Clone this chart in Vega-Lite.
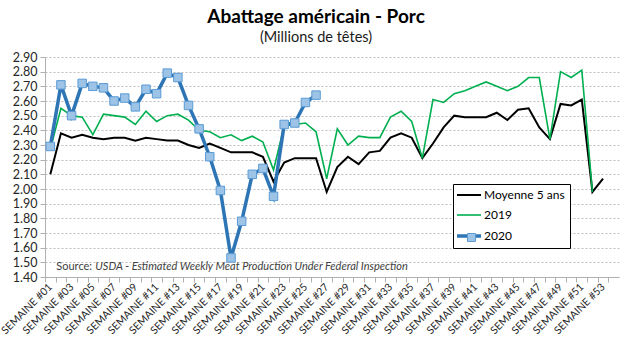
{
  "$schema": "https://vega.github.io/schema/vega-lite/v6.json",
  "width": 574,
  "height": 220,
  "autosize": {"type": "none"},
  "padding": {"left": 45, "top": 57, "right": 13, "bottom": 67},
  "background": "white",
  "config": {"font": "Lato", "view": {"stroke": null}},
  "title": {
    "text": "Abattage américain - Porc",
    "subtitle": "(Millions de têtes)",
    "font": "Lato",
    "fontSize": 19,
    "fontWeight": "bold",
    "color": "#000000",
    "subtitleFont": "Lato",
    "subtitleFontSize": 14.5,
    "subtitleColor": "#1a1a1a",
    "anchor": "middle",
    "dx": -16,
    "offset": 7,
    "subtitlePadding": 4
  },
  "datasets": {
    "semaines": [
      {"semaine": "SEMAINE #01", "Moyenne 5 ans": 2.10, "2019": 2.27, "2020": 2.29},
      {"semaine": "SEMAINE #02", "Moyenne 5 ans": 2.38, "2019": 2.55, "2020": 2.71},
      {"semaine": "SEMAINE #03", "Moyenne 5 ans": 2.35, "2019": 2.50, "2020": 2.50},
      {"semaine": "SEMAINE #04", "Moyenne 5 ans": 2.37, "2019": 2.49, "2020": 2.72},
      {"semaine": "SEMAINE #05", "Moyenne 5 ans": 2.35, "2019": 2.37, "2020": 2.70},
      {"semaine": "SEMAINE #06", "Moyenne 5 ans": 2.34, "2019": 2.51, "2020": 2.69},
      {"semaine": "SEMAINE #07", "Moyenne 5 ans": 2.35, "2019": 2.50, "2020": 2.60},
      {"semaine": "SEMAINE #08", "Moyenne 5 ans": 2.35, "2019": 2.49, "2020": 2.62},
      {"semaine": "SEMAINE #09", "Moyenne 5 ans": 2.33, "2019": 2.44, "2020": 2.56},
      {"semaine": "SEMAINE #10", "Moyenne 5 ans": 2.35, "2019": 2.53, "2020": 2.68},
      {"semaine": "SEMAINE #11", "Moyenne 5 ans": 2.34, "2019": 2.46, "2020": 2.65},
      {"semaine": "SEMAINE #12", "Moyenne 5 ans": 2.33, "2019": 2.50, "2020": 2.79},
      {"semaine": "SEMAINE #13", "Moyenne 5 ans": 2.33, "2019": 2.51, "2020": 2.76},
      {"semaine": "SEMAINE #14", "Moyenne 5 ans": 2.30, "2019": 2.47, "2020": 2.57},
      {"semaine": "SEMAINE #15", "Moyenne 5 ans": 2.28, "2019": 2.40, "2020": 2.41},
      {"semaine": "SEMAINE #16", "Moyenne 5 ans": 2.31, "2019": 2.39, "2020": 2.22},
      {"semaine": "SEMAINE #17", "Moyenne 5 ans": 2.28, "2019": 2.35, "2020": 1.99},
      {"semaine": "SEMAINE #18", "Moyenne 5 ans": 2.25, "2019": 2.37, "2020": 1.53},
      {"semaine": "SEMAINE #19", "Moyenne 5 ans": 2.25, "2019": 2.33, "2020": 1.78},
      {"semaine": "SEMAINE #20", "Moyenne 5 ans": 2.25, "2019": 2.36, "2020": 2.10},
      {"semaine": "SEMAINE #21", "Moyenne 5 ans": 2.22, "2019": 2.32, "2020": 2.14},
      {"semaine": "SEMAINE #22", "Moyenne 5 ans": 2.05, "2019": 2.13, "2020": 1.95},
      {"semaine": "SEMAINE #23", "Moyenne 5 ans": 2.18, "2019": 2.43, "2020": 2.44},
      {"semaine": "SEMAINE #24", "Moyenne 5 ans": 2.21, "2019": 2.44, "2020": 2.45},
      {"semaine": "SEMAINE #25", "Moyenne 5 ans": 2.21, "2019": 2.45, "2020": 2.59},
      {"semaine": "SEMAINE #26", "Moyenne 5 ans": 2.21, "2019": 2.39, "2020": 2.64},
      {"semaine": "SEMAINE #27", "Moyenne 5 ans": 1.98, "2019": 2.07, "2020": null},
      {"semaine": "SEMAINE #28", "Moyenne 5 ans": 2.15, "2019": 2.41, "2020": null},
      {"semaine": "SEMAINE #29", "Moyenne 5 ans": 2.22, "2019": 2.30, "2020": null},
      {"semaine": "SEMAINE #30", "Moyenne 5 ans": 2.17, "2019": 2.36, "2020": null},
      {"semaine": "SEMAINE #31", "Moyenne 5 ans": 2.25, "2019": 2.35, "2020": null},
      {"semaine": "SEMAINE #32", "Moyenne 5 ans": 2.26, "2019": 2.35, "2020": null},
      {"semaine": "SEMAINE #33", "Moyenne 5 ans": 2.35, "2019": 2.49, "2020": null},
      {"semaine": "SEMAINE #34", "Moyenne 5 ans": 2.38, "2019": 2.53, "2020": null},
      {"semaine": "SEMAINE #35", "Moyenne 5 ans": 2.35, "2019": 2.46, "2020": null},
      {"semaine": "SEMAINE #36", "Moyenne 5 ans": 2.21, "2019": 2.21, "2020": null},
      {"semaine": "SEMAINE #37", "Moyenne 5 ans": 2.31, "2019": 2.61, "2020": null},
      {"semaine": "SEMAINE #38", "Moyenne 5 ans": 2.42, "2019": 2.59, "2020": null},
      {"semaine": "SEMAINE #39", "Moyenne 5 ans": 2.50, "2019": 2.65, "2020": null},
      {"semaine": "SEMAINE #40", "Moyenne 5 ans": 2.49, "2019": 2.67, "2020": null},
      {"semaine": "SEMAINE #41", "Moyenne 5 ans": 2.49, "2019": 2.70, "2020": null},
      {"semaine": "SEMAINE #42", "Moyenne 5 ans": 2.49, "2019": 2.73, "2020": null},
      {"semaine": "SEMAINE #43", "Moyenne 5 ans": 2.52, "2019": 2.70, "2020": null},
      {"semaine": "SEMAINE #44", "Moyenne 5 ans": 2.47, "2019": 2.67, "2020": null},
      {"semaine": "SEMAINE #45", "Moyenne 5 ans": 2.54, "2019": 2.70, "2020": null},
      {"semaine": "SEMAINE #46", "Moyenne 5 ans": 2.55, "2019": 2.76, "2020": null},
      {"semaine": "SEMAINE #47", "Moyenne 5 ans": 2.42, "2019": 2.76, "2020": null},
      {"semaine": "SEMAINE #48", "Moyenne 5 ans": 2.34, "2019": 2.34, "2020": null},
      {"semaine": "SEMAINE #49", "Moyenne 5 ans": 2.58, "2019": 2.80, "2020": null},
      {"semaine": "SEMAINE #50", "Moyenne 5 ans": 2.57, "2019": 2.76, "2020": null},
      {"semaine": "SEMAINE #51", "Moyenne 5 ans": 2.61, "2019": 2.81, "2020": null},
      {"semaine": "SEMAINE #52", "Moyenne 5 ans": 1.98, "2019": 1.98, "2020": null},
      {"semaine": "SEMAINE #53", "Moyenne 5 ans": 2.07, "2019": null, "2020": null}
    ],
    "source": [
      {"semaine": "SEMAINE #01", "y": 1.47, "a": "Source:", "b": "USDA - Estimated Weekly Meat Production Under Federal Inspection"}
    ]
  },
  "layer": [
    {
      "data": {"name": "semaines"},
      "transform": [
        {"fold": ["Moyenne 5 ans", "2019", "2020"], "as": ["serie", "valeur"]},
        {"filter": "isValid(datum.valeur) && datum.serie !== '2020'"}
      ],
      "mark": {"type": "line"},
      "encoding": {
        "x": {
          "field": "semaine",
          "type": "ordinal",
          "scale": {
            "type": "point",
            "padding": 0.5,
            "domain": ["SEMAINE #01","SEMAINE #02","SEMAINE #03","SEMAINE #04","SEMAINE #05","SEMAINE #06","SEMAINE #07","SEMAINE #08","SEMAINE #09","SEMAINE #10","SEMAINE #11","SEMAINE #12","SEMAINE #13","SEMAINE #14","SEMAINE #15","SEMAINE #16","SEMAINE #17","SEMAINE #18","SEMAINE #19","SEMAINE #20","SEMAINE #21","SEMAINE #22","SEMAINE #23","SEMAINE #24","SEMAINE #25","SEMAINE #26","SEMAINE #27","SEMAINE #28","SEMAINE #29","SEMAINE #30","SEMAINE #31","SEMAINE #32","SEMAINE #33","SEMAINE #34","SEMAINE #35","SEMAINE #36","SEMAINE #37","SEMAINE #38","SEMAINE #39","SEMAINE #40","SEMAINE #41","SEMAINE #42","SEMAINE #43","SEMAINE #44","SEMAINE #45","SEMAINE #46","SEMAINE #47","SEMAINE #48","SEMAINE #49","SEMAINE #50","SEMAINE #51","SEMAINE #52","SEMAINE #53","SEMAINE #54"]
          },
          "axis": {
            "title": null,
            "labelAngle": -45,
            "labelAlign": "right",
            "labelBaseline": "middle",
            "labelFontSize": 10.5,
            "labelColor": "#262626",
            "labelFont": "Lato",
            "tickOffset": -5.315,
            "labelOffset": 5.315,
            "tickSize": 5,
            "tickColor": "#B0B0B0",
            "domainColor": "#B0B0B0",
            "labelExpr": "toNumber(slice(datum.value, 9)) % 2 == 1 ? datum.value : ''",
            "labelOverlap": false,
            "labelPadding": 3,
            "grid": false
          }
        },
        "y": {
          "field": "valeur",
          "type": "quantitative",
          "scale": {"domain": [1.4, 2.9], "nice": false, "zero": false},
          "axis": {
            "title": null,
            "values": [1.4, 1.5, 1.6, 1.7, 1.8, 1.9, 2.0, 2.1, 2.2, 2.3, 2.4, 2.5, 2.6, 2.7, 2.8, 2.9],
            "tickCount": 16,
            "labelOverlap": false,
            "format": ".2f",
            "grid": true,
            "gridDash": [2, 2],
            "gridColor": "#BFBFBF",
            "domainColor": "#B0B0B0",
            "tickColor": "#B0B0B0",
            "tickSize": 5,
            "labelFontSize": 12.5,
            "labelFont": "Lato",
            "labelColor": "#262626",
            "labelPadding": 3
          }
        },
        "color": {
          "field": "serie",
          "type": "nominal",
          "scale": {"domain": ["Moyenne 5 ans", "2019", "2020"], "range": ["#000000", "#00B050", "#2E75B6"]},
          "legend": {
            "orient": "none",
            "legendX": 408,
            "legendY": 127,
            "title": null,
            "symbolType": "M-1.5,0L1.5,0",
            "symbolSize": 256,
            "symbolStrokeWidth": 2,
            "rowPadding": 8,
            "padding": 5,
            "strokeColor": "#000000",
            "fillColor": "#ffffff",
            "labelFontSize": 12,
            "labelFont": "Lato",
            "labelColor": "#000000",
            "symbolOffset": 5,
            "labelOffset": 9,
            "encode": {"symbols": {"update": {"strokeWidth": {"signal": "datum.value === '2020' ? 3.5 : datum.value === '2019' ? 1.6 : 2"}}}}
          }
        },
        "strokeWidth": {"condition": {"test": "datum.serie === 'Moyenne 5 ans'", "value": 2}, "value": 1.6}
      }
    },
    {
      "data": {"name": "semaines"},
      "transform": [
        {"fold": ["Moyenne 5 ans", "2019", "2020"], "as": ["serie", "valeur"]},
        {"filter": "isValid(datum.valeur) && datum.serie === '2020'"}
      ],
      "mark": {"type": "line", "strokeWidth": 3.5},
      "encoding": {
        "x": {"field": "semaine", "type": "ordinal"},
        "y": {"field": "valeur", "type": "quantitative"},
        "color": {"field": "serie", "type": "nominal"}
      }
    },
    {
      "data": {"name": "semaines"},
      "transform": [
        {"fold": ["Moyenne 5 ans", "2019", "2020"], "as": ["serie", "valeur"]},
        {"filter": "isValid(datum.valeur) && datum.serie === '2020'"}
      ],
      "mark": {"type": "point", "shape": "square", "size": 72, "filled": true, "stroke": "#5B9BD5", "strokeWidth": 1, "opacity": 1},
      "encoding": {
        "x": {"field": "semaine", "type": "ordinal"},
        "y": {"field": "valeur", "type": "quantitative"},
        "fill": {
          "field": "serie",
          "type": "nominal",
          "scale": {"domain": ["2020"], "range": ["#9DC3E6"]},
          "legend": {
            "orient": "none",
            "legendX": 422,
            "legendY": 176,
            "title": null,
            "symbolType": "square",
            "symbolSize": 64,
            "symbolStrokeColor": "#5B9BD5",
            "symbolStrokeWidth": 1,
            "padding": 0,
            "labelExpr": "''",
            "labelFontSize": 1
          }
        }
      }
    },
    {
      "data": {"name": "source"},
      "mark": {"type": "text", "align": "left", "baseline": "middle", "dx": 6, "font": "Lato", "fontSize": 11, "color": "#404040"},
      "encoding": {
        "x": {"field": "semaine", "type": "ordinal"},
        "y": {"field": "y", "type": "quantitative"},
        "text": {"field": "a"}
      }
    },
    {
      "data": {"name": "source"},
      "mark": {"type": "text", "align": "left", "baseline": "middle", "dx": 45, "font": "Lato", "fontSize": 11, "fontStyle": "italic", "color": "#404040"},
      "encoding": {
        "x": {"field": "semaine", "type": "ordinal"},
        "y": {"field": "y", "type": "quantitative"},
        "text": {"field": "b"}
      }
    }
  ]
}
